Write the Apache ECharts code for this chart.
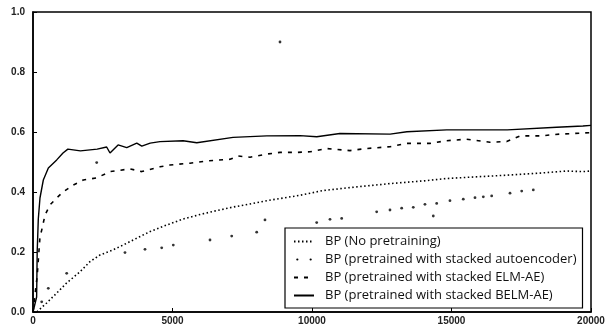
<!DOCTYPE html>
<html>
<head>
<meta charset="utf-8">
<script src="https://cdn.jsdelivr.net/npm/echarts@6/dist/echarts.min.js"></script>
<style>
  html, body { margin: 0; padding: 0; background: #fff; }
  #chart { width: 616px; height: 329px; }
</style>
</head>
<body>
<div id="chart"></div>
<script>
// series names, as in the legend
const seriesNames = [
  'BP (No pretraining)',
  'BP (pretrained with stacked autoencoder)',
  'BP (pretrained with stacked ELM-AE)',
  'BP (pretrained with stacked BELM-AE)'
]

const xTicks = [0, 5000, 10000, 15000, 20000]
const yTicks = [0, 0.2, 0.4, 0.6, 0.8, 1.0]

// [iteration, accuracy]
const noPretrain = [
  [0, 0], [133, 0.0], [491, 0.03], [849, 0.063], [1208, 0.097], [1685, 0.134],
  [2043, 0.168], [2401, 0.19], [2867, 0.207], [3226, 0.223], [3717, 0.246],
  [4193, 0.268], [4792, 0.29], [5387, 0.31], [5985, 0.325], [6584, 0.338],
  [7179, 0.35], [7778, 0.36], [8376, 0.371], [8971, 0.38], [9570, 0.389],
  [10405, 0.405], [11601, 0.417], [12795, 0.428], [13988, 0.437], [14827, 0.445],
  [15781, 0.45], [16977, 0.456], [18172, 0.463], [19129, 0.47], [19713, 0.468], [20000, 0.47]
]

const stackedAE = [
  [312, 0.034], [548, 0.079], [1208, 0.129], [2283, 0.498], [3297, 0.198],
  [4014, 0.209], [4613, 0.214], [5028, 0.223], [6344, 0.24], [7122, 0.253],
  [8018, 0.266], [8315, 0.307], [8853, 0.9], [10168, 0.298], [10645, 0.309],
  [11064, 0.312], [12318, 0.334], [12795, 0.34], [13214, 0.346], [13630, 0.349],
  [14049, 0.359], [14347, 0.32], [14469, 0.362], [14945, 0.371], [15422, 0.376],
  [15842, 0.381], [16140, 0.384], [16440, 0.387], [17097, 0.396], [17516, 0.403], [17932, 0.407]
]

const elmAE = [
  [0, 0], [150, 0.12], [250, 0.25], [312, 0.273], [430, 0.323], [609, 0.357],
  [849, 0.38], [1086, 0.401], [1444, 0.423], [1803, 0.44], [2283, 0.447],
  [2760, 0.468], [3476, 0.477], [3896, 0.468], [4552, 0.484], [4910, 0.49],
  [5627, 0.496], [6283, 0.504], [7061, 0.509], [7347, 0.52], [7778, 0.516],
  [8433, 0.527], [8853, 0.532], [9451, 0.532], [9928, 0.534], [10526, 0.545],
  [11362, 0.538], [11960, 0.545], [12795, 0.551], [13393, 0.562], [14229, 0.562],
  [14827, 0.571], [15544, 0.576], [16380, 0.566], [16977, 0.568], [17455, 0.587],
  [18172, 0.587], [18889, 0.593], [19606, 0.596], [20000, 0.598]
]

const belmAE = [
  [0, 0], [130, 0.05], [150, 0.2], [190, 0.31], [250, 0.38], [370, 0.44],
  [550, 0.48], [850, 0.507], [1075, 0.53], [1250, 0.543], [1700, 0.537],
  [2300, 0.543], [2640, 0.55], [2760, 0.53], [3050, 0.557], [3360, 0.548],
  [3720, 0.563], [3900, 0.553], [4200, 0.563], [4550, 0.568], [5380, 0.571],
  [5870, 0.564], [7170, 0.582], [8380, 0.587], [9570, 0.588], [10170, 0.584],
  [11000, 0.595], [12800, 0.593], [13400, 0.601], [14830, 0.607], [17000, 0.607],
  [18770, 0.616], [19710, 0.62], [20000, 0.622]
]

const chart = echarts.init(document.getElementById('chart'), null, { renderer: 'canvas' })

const axisText = { color: '#222', fontSize: 10, fontWeight: 'bold', fontFamily: 'Liberation Sans' }

const option = {
  backgroundColor: '#fff',
  animation: false,
  color: ['#000'],
  grid: {
    left: 33, right: 25, top: 12, bottom: 17,
    show: true, borderColor: '#000', borderWidth: 1.5, backgroundColor: 'transparent'
  },
  xAxis: {
    type: 'value',
    min: xTicks[0], max: xTicks[xTicks.length - 1], interval: 5000,
    splitLine: { show: false },
    axisLine: { show: true, lineStyle: { color: '#000', width: 1.5 } },
    axisTick: { show: true, inside: true, length: 4, lineStyle: { color: '#000' } },
    axisLabel: { ...axisText, margin: 4, formatter: v => String(v) }
  },
  yAxis: {
    type: 'value',
    min: yTicks[0], max: yTicks[yTicks.length - 1], interval: 0.2,
    splitLine: { show: false },
    axisLine: { show: true, lineStyle: { color: '#000', width: 1.5 } },
    axisTick: { show: true, inside: true, length: 4, lineStyle: { color: '#000' } },
    axisLabel: { ...axisText, margin: 8, formatter: v => v.toFixed(1) }
  },
  legend: {
    orient: 'vertical',
    left: 285, top: 228,
    padding: [7, 6, 6, 8],
    itemGap: 5,
    itemWidth: 20, itemHeight: 13,
    backgroundColor: '#fff',
    borderColor: '#000', borderWidth: 1.2,
    itemStyle: { opacity: 0 },
    textStyle: { color: '#111', fontSize: 13, fontFamily: 'Open Sans', padding: [0, 0, 0, 6] },
    data: [
      { name: seriesNames[0] },
      { name: seriesNames[1], icon: 'path://M2,5 a1,1 0 1,0 2,0 a1,1 0 1,0 -2,0 M14,5 a1,1 0 1,0 2,0 a1,1 0 1,0 -2,0 M0,0 L0,0.01 M18,10 L18,10.01', itemStyle: { color: '#000', opacity: 1 } },
      { name: seriesNames[2] },
      { name: seriesNames[3] }
    ]
  },
  series: [
    {
      name: seriesNames[0], type: 'line', data: noPretrain, symbol: 'none',
      itemStyle: { color: '#000' },
      lineStyle: { color: '#000', width: 1.6, type: [1.5, 2.5] }, z: 3
    },
    {
      name: seriesNames[1], type: 'scatter', data: stackedAE, symbol: 'circle', symbolSize: 2.8,
      itemStyle: { color: '#000' }, z: 3
    },
    {
      name: seriesNames[2], type: 'line', data: elmAE, symbol: 'none',
      itemStyle: { color: '#000' },
      lineStyle: { color: '#000', width: 1.6, type: [4, 6] }, z: 3
    },
    {
      name: seriesNames[3], type: 'line', data: belmAE, symbol: 'none',
      itemStyle: { color: '#000' },
      lineStyle: { color: '#000', width: 1.4 }, z: 3
    }
  ]
}

chart.setOption(option)
</script>
</body>
</html>
